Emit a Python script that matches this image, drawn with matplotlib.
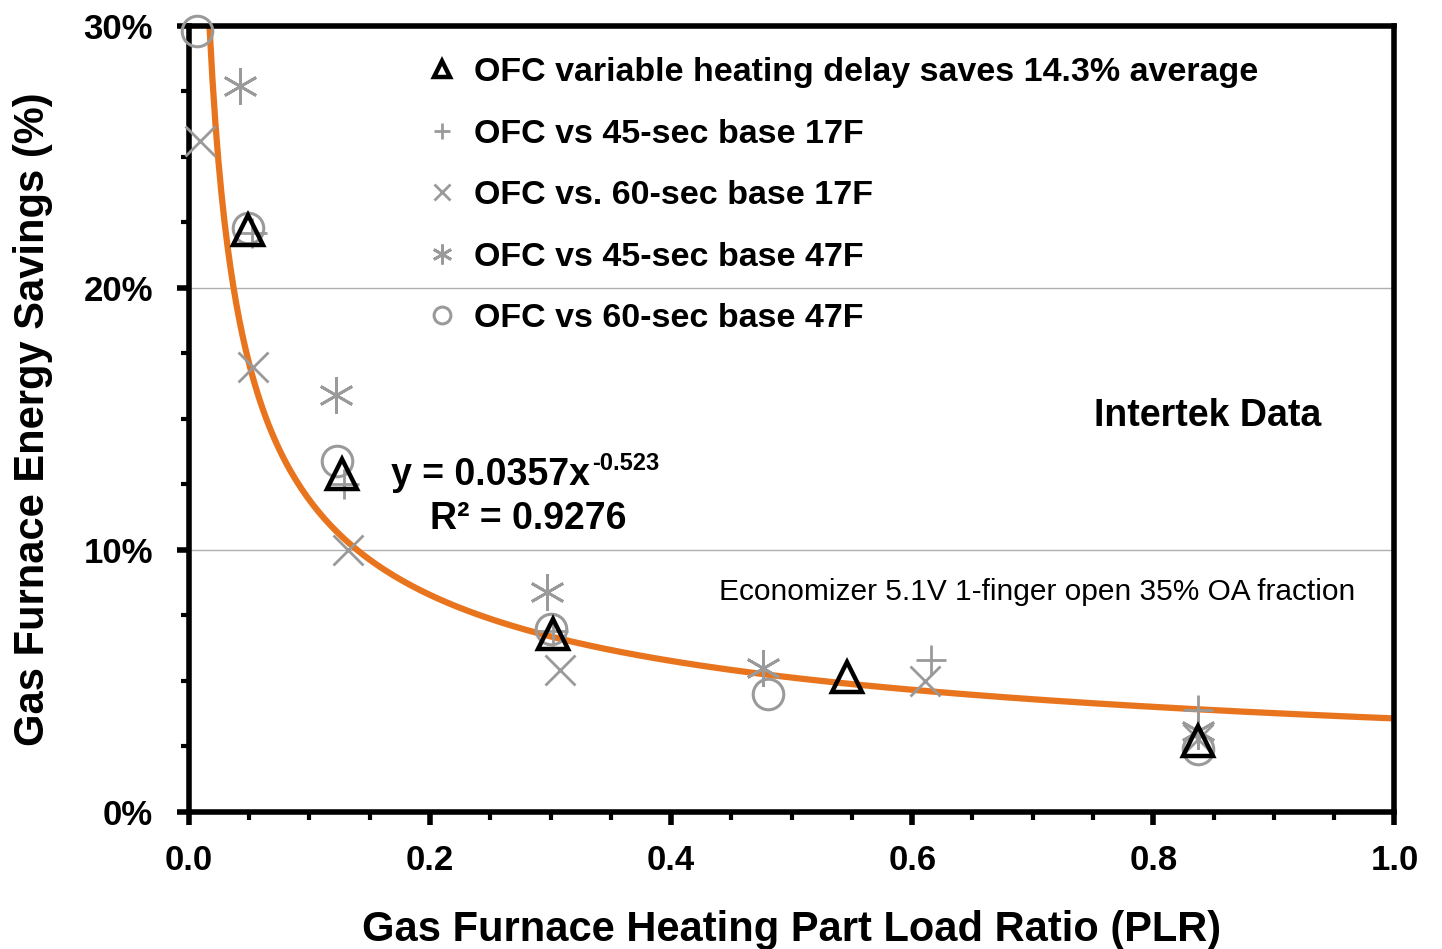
import numpy as np
import matplotlib
matplotlib.use("Agg")
from matplotlib import pyplot as plt
from matplotlib.ticker import MultipleLocator, FuncFormatter

plt.rcParams['font.family'] = ['Liberation Sans', 'DejaVu Sans']
plt.rcParams['font.weight'] = 'bold'

# data (x = PLR, y = savings %)
tri_x = [0.049, 0.127, 0.302, 0.546, 0.837]
tri_y = [22.2, 12.9, 6.8, 5.15, 2.7]

plus_x = [0.052, 0.129, 0.302, 0.616, 0.837]
plus_y = [22.1, 12.5, 6.9, 5.8, 3.9]

xm_x = [0.009, 0.053, 0.132, 0.308, 0.611, 0.837]
xm_y = [25.6, 17.0, 10.0, 5.4, 5.0, 2.8]

ast_x = [0.042, 0.122, 0.297, 0.476, 0.837]
ast_y = [27.7, 15.9, 8.4, 5.5, 3.1]

circ_x = [0.007, 0.049, 0.123, 0.300, 0.480, 0.837]
circ_y = [29.8, 22.3, 13.4, 7.0, 4.5, 2.4]

# power trendline y = a * x^b (coefficients from the chart label)
fit_a = 0.0357
fit_b = -0.523

labels = ['OFC variable heating delay saves 14.3% average',
          'OFC vs 45-sec base 17F',
          'OFC vs. 60-sec base 17F',
          'OFC vs 45-sec base 47F',
          'OFC vs 60-sec base 47F']

gray = '#9a9a9a'

fig = plt.figure(figsize=(14.42, 9.49), dpi=100)
ax = fig.add_axes([0.131, 0.1444, 0.836, 0.8282])

# trendline
xs = np.linspace(0.0171, 1.0, 400)
ax.plot(xs, 100 * fit_a * xs ** fit_b, color='#e8751e', lw=4.5, zorder=2)

ax.plot(tri_x, tri_y, ls='none', marker='^', ms=21, mfc='none', mec='black', mew=3.2,
        label=labels[0], zorder=4, clip_on=False)
ax.plot(plus_x, plus_y, ls='none', marker='+', ms=22, mec=gray, mew=2,
        label=labels[1], zorder=3, clip_on=False)
ax.plot(xm_x, xm_y, ls='none', marker='x', ms=22, mec=gray, mew=2,
        label=labels[2], zorder=3, clip_on=False)
ax.plot(ast_x, ast_y, ls='none', marker=(6, 2, 0), ms=26, mec=gray, mew=2,
        label=labels[3], zorder=3, clip_on=False)
ax.plot(circ_x, circ_y, ls='none', marker='o', ms=22, mfc='none', mec=gray, mew=2.2,
        label=labels[4], zorder=3, clip_on=False)

ax.set_xlim(0, 1.0)
ax.set_ylim(0, 30)
ax.xaxis.set_major_locator(MultipleLocator(0.2))
ax.xaxis.set_minor_locator(MultipleLocator(0.05))
ax.yaxis.set_major_locator(MultipleLocator(10))
ax.yaxis.set_minor_locator(MultipleLocator(2.5))
ax.xaxis.set_major_formatter(FuncFormatter(lambda v, p: f'{v:.1f}'))
ax.yaxis.set_major_formatter(FuncFormatter(lambda v, p: f'{v:.0f}%'))
ax.grid(axis='y', which='major', color='#b0b0b0', lw=1)
ax.set_axisbelow(True)

for s in ax.spines.values():
    s.set_linewidth(4)
ax.tick_params(axis='both', which='major', direction='out', length=9, width=4,
               labelsize=25)
ax.tick_params(axis='x', which='major', pad=14)
ax.tick_params(axis='y', which='major', pad=17)
ax.tick_params(axis='both', which='minor', direction='out', length=6, width=3)

ax.set_xlabel('Gas Furnace Heating Part Load Ratio (PLR)', fontsize=30,
              fontweight='bold', labelpad=24)
ax.set_ylabel('Gas Furnace Energy Savings (%)', fontsize=30, fontweight='bold',
              labelpad=22)

leg = ax.legend(loc='upper left', bbox_to_anchor=(0.187, 0.978), frameon=False,
                fontsize=24.5, labelspacing=0.9, handletextpad=0.55, handlelength=0.8,
                markerscale=0.55, borderaxespad=0)

eq = ax.text(0.168, 12.85, 'y = 0.0357x', fontsize=27, fontweight='bold',
             va='center', ha='left')
ax.annotate('-0.523', xy=(1, 1), xycoords=eq, xytext=(1, 4), textcoords='offset points',
            fontsize=17, fontweight='bold', va='top', ha='left')
ax.text(0.2, 11.2, 'R² = 0.9276', fontsize=27, fontweight='bold', va='center', ha='left')
ax.text(0.845, 15.1, 'Intertek Data', fontsize=27, fontweight='bold', va='center', ha='center')
ax.text(0.44, 8.4, 'Economizer 5.1V 1-finger open 35% OA fraction', fontsize=21.5,
        fontweight='normal', va='center', ha='left')

fig.savefig('out.png', dpi=100)
